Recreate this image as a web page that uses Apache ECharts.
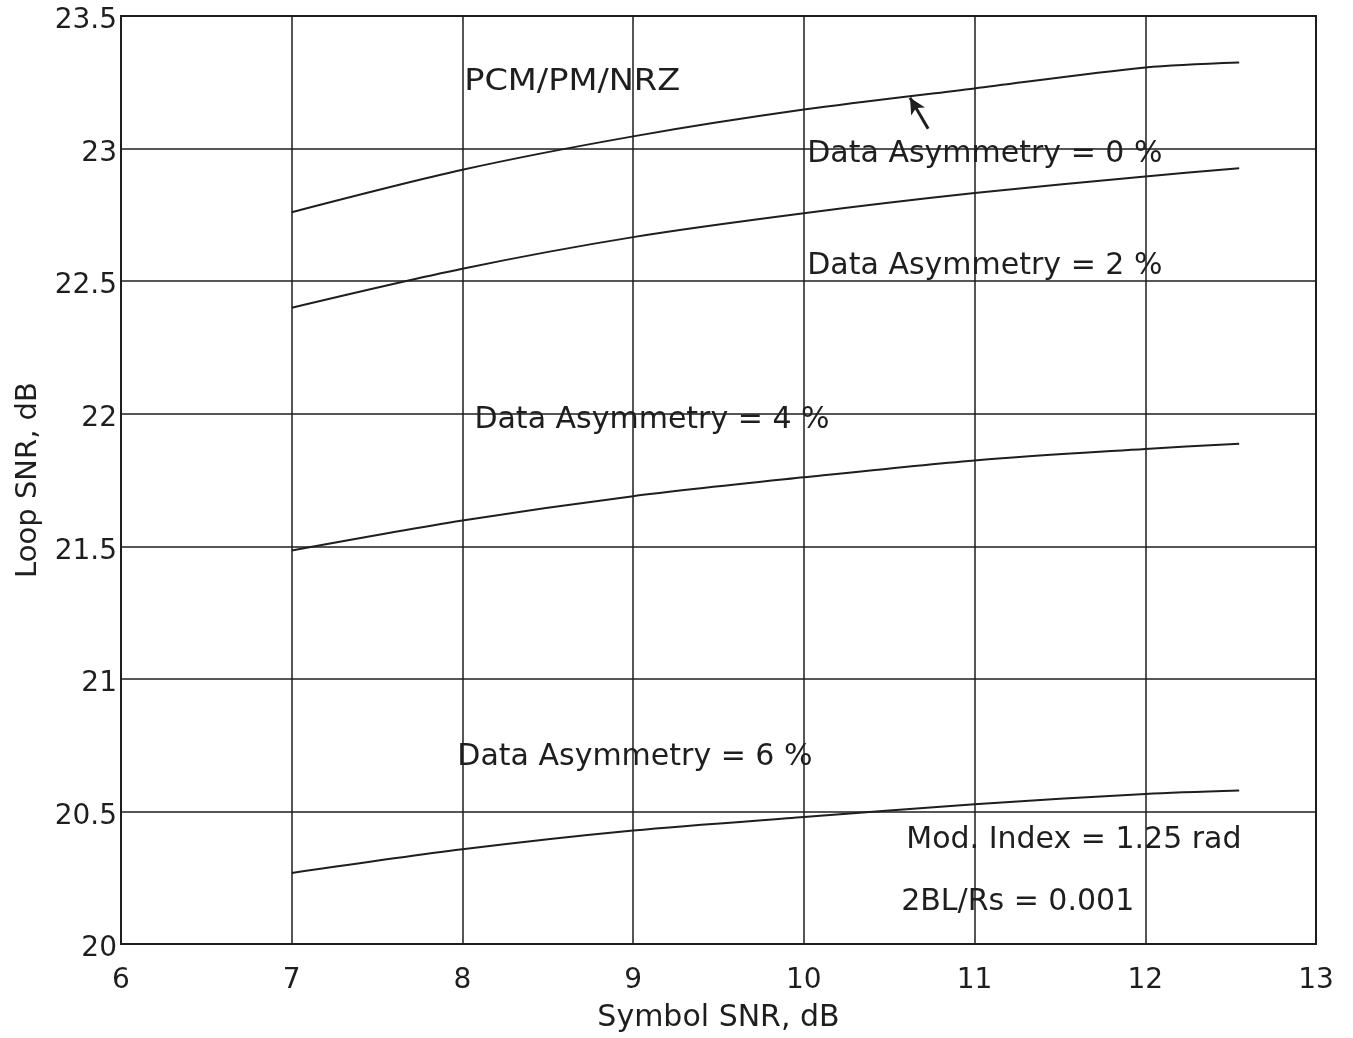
<!DOCTYPE html>
<html>
<head>
<meta charset="utf-8">
<script src="https://cdn.jsdelivr.net/npm/echarts@6/dist/echarts.min.js"></script>
<style>
  html, body { margin: 0; padding: 0; background: #ffffff; }
  #chart { width: 1353px; height: 1038px; }
</style>
</head>
<body>
<div id="chart"></div>
<script>
// Symbol SNR (dB) sample points
const symbolSnr = [7, 8, 9, 10, 11, 12, 12.55];

// Loop SNR (dB) for each data asymmetry level
const loopSnrAsym0 = [22.76, 22.92, 23.046, 23.147, 23.227, 23.306, 23.325];
const loopSnrAsym2 = [22.40, 22.547, 22.666, 22.756, 22.832, 22.895, 22.926];
const loopSnrAsym4 = [21.484, 21.597, 21.689, 21.760, 21.824, 21.867, 21.887];
const loopSnrAsym6 = [20.268, 20.357, 20.428, 20.479, 20.527, 20.566, 20.579];

const xTicks = { min: 6, max: 13, step: 1 };
const yTicks = { min: 20, max: 23.5, step: 0.5 };

// Text notes placed in data coordinates (left edge, vertical middle)
const notes = [
  { text: 'PCM/PM/NRZ', at: [8.01, 23.25], stretch: 1.12 },
  { text: 'Data Asymmetry = 0 %', at: [10.02, 22.978] },
  { text: 'Data Asymmetry = 2 %', at: [10.02, 22.558] },
  { text: 'Data Asymmetry = 4 %', at: [8.07, 21.975] },
  { text: 'Data Asymmetry = 6 %', at: [7.97, 20.703] },
  { text: 'Mod. Index = 1.25 rad', at: [10.6, 20.393] },
  { text: '2BL/Rs = 0.001', at: [10.57, 20.156] }
];

// Pointer from the 0 % label up to its curve
const pointerFrom = [10.728, 23.075];
const pointerTo = [10.622, 23.192];

const FONT = 'DejaVu Sans';
const INK = '#1e1e1e';

function pairs(ys) { return symbolSnr.map((x, i) => [x, ys[i]]); }

function curve(name, ys, extra) {
  return Object.assign({
    name: name,
    type: 'line',
    data: pairs(ys),
    showSymbol: false,
    smooth: 0.3,
    lineStyle: { color: INK, width: 2 },
    z: 5
  }, extra || {});
}

const chart = echarts.init(document.getElementById('chart'), null, { renderer: 'canvas' });

chart.setOption({
  backgroundColor: '#ffffff',
  animation: false,
  grid: {
    left: 121, right: 37, top: 16, bottom: 93,
    show: true, borderColor: INK, borderWidth: 2, backgroundColor: 'transparent'
  },
  xAxis: {
    type: 'value',
    min: xTicks.min, max: xTicks.max, interval: xTicks.step,
    name: 'Symbol SNR, dB',
    nameLocation: 'middle',
    nameGap: 59,
    nameTextStyle: { fontFamily: FONT, fontSize: 30, color: INK },
    axisLine: { show: true, lineStyle: { color: INK, width: 2 } },
    axisTick: { show: false },
    axisLabel: { fontFamily: FONT, fontSize: 28, color: INK, margin: 23 },
    splitLine: { show: true, lineStyle: { color: INK, width: 1.5 } }
  },
  yAxis: {
    type: 'value',
    min: yTicks.min, max: yTicks.max, interval: yTicks.step,
    name: 'Loop SNR, dB',
    nameLocation: 'middle',
    nameGap: 78,
    nameRotate: 90,
    nameTextStyle: { fontFamily: FONT, fontSize: 29, color: INK },
    axisLine: { show: true, lineStyle: { color: INK, width: 2 } },
    axisTick: { show: false },
    axisLabel: {
      margin: 4,
      formatter: v => '{v|' + v + '}',
      rich: {
        v: { fontFamily: FONT, fontSize: 28, color: INK, padding: [10, 0, 0, 0] }
      }
    },
    splitLine: { show: true, lineStyle: { color: INK, width: 1.5 } }
  },
  series: [
    curve('Data Asymmetry = 0 %', loopSnrAsym0, {
      markLine: {
        silent: true,
        symbolSize: [12, 16],
        label: { show: false },
        lineStyle: { color: INK, width: 3, type: 'solid' },
        data: [[
          { coord: pointerFrom, symbol: 'none' },
          { coord: pointerTo, symbol: 'arrow' }
        ]]
      }
    }),
    curve('Data Asymmetry = 2 %', loopSnrAsym2),
    curve('Data Asymmetry = 4 %', loopSnrAsym4),
    curve('Data Asymmetry = 6 %', loopSnrAsym6)
  ]
});

// Place the text notes through the grid's coordinate system
chart.setOption({
  graphic: notes.map(n => {
    const p = chart.convertToPixel({ gridIndex: 0 }, n.at);
    return {
      type: 'text',
      x: p[0], y: p[1], z: 10,
      scaleX: n.stretch || 1,
      silent: true,
      style: {
        text: n.text,
        fontFamily: FONT,
        fontSize: 30,
        fill: INK,
        textAlign: 'left',
        textVerticalAlign: 'middle'
      }
    };
  })
});
</script>
</body>
</html>
